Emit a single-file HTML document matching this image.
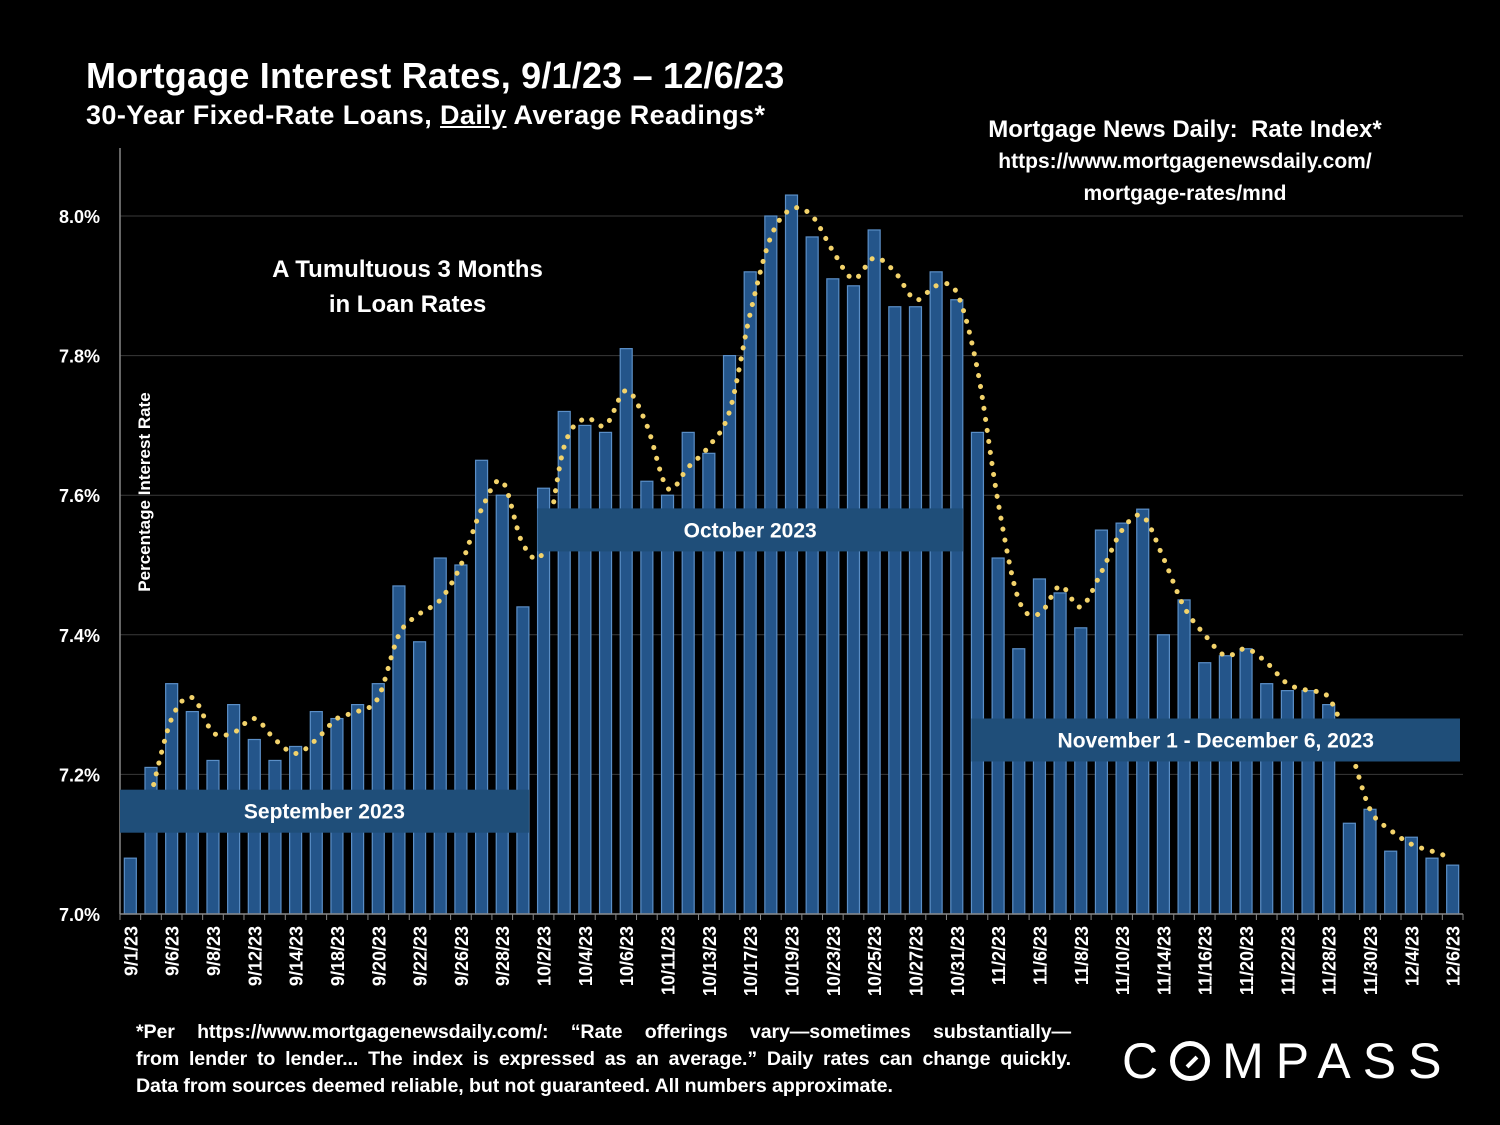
<!DOCTYPE html>
<html><head><meta charset="utf-8">
<style>
html,body{margin:0;padding:0;background:#000;}
body{width:1500px;height:1125px;position:relative;overflow:hidden;font-family:"Liberation Sans",sans-serif;color:#fff;font-weight:bold;}
.abs{position:absolute;white-space:nowrap;}
.fl{display:block;text-align:justify;text-align-last:justify;white-space:normal;}
</style></head>
<body>
<div class="abs" style="left:86px;top:55px;font-size:36px;letter-spacing:0.2px;">Mortgage Interest Rates, 9/1/23 – 12/6/23</div>
<div class="abs" style="left:86px;top:100px;font-size:27px;letter-spacing:0.4px;">30-Year Fixed-Rate Loans, <u>Daily</u> Average Readings*</div>
<div class="abs" style="left:885px;top:114px;width:600px;text-align:center;font-size:24px;line-height:31px;">Mortgage News Daily:&nbsp; Rate Index*<br><span style="font-size:21px">https://www.mortgagenewsdaily.com/<br>mortgage-rates/mnd</span></div>
<div class="abs" style="left:220px;top:252px;width:375px;text-align:center;font-size:24px;line-height:35px;">A Tumultuous 3 Months<br>in Loan Rates</div>
<div class="abs" style="left:136px;top:1019px;width:935px;white-space:normal;font-size:19.6px;line-height:27px;letter-spacing:-0.1px;">
<span class="fl">*Per https://www.mortgagenewsdaily.com/: “Rate offerings vary—sometimes substantially—</span>
<span class="fl">from lender to lender... The index is expressed as an average.” Daily rates can change quickly.</span>
<span style="display:block;">Data from sources deemed reliable, but not guaranteed. All numbers approximate.</span></div>
<div class="abs" style="left:1122px;top:1032px;font-size:50px;font-weight:normal;letter-spacing:12px;">C<span style="display:inline-block;width:40px;height:40px;border:5px solid #fff;border-radius:50%;box-sizing:border-box;position:relative;vertical-align:-3px;margin-right:12px;"><span style="position:absolute;left:10px;top:14px;width:14px;height:4px;background:#fff;transform:rotate(-45deg);"></span></span>MPASS</div>

<svg id="chart" width="1500" height="1125" style="position:absolute;left:0;top:0;"></svg>

<script>
const dates=["9/1/23","9/5/23","9/6/23","9/7/23","9/8/23","9/11/23","9/12/23","9/13/23","9/14/23","9/15/23","9/18/23","9/19/23","9/20/23","9/21/23","9/22/23","9/25/23","9/26/23","9/27/23","9/28/23","9/29/23","10/2/23","10/3/23","10/4/23","10/5/23","10/6/23","10/10/23","10/11/23","10/12/23","10/13/23","10/16/23","10/17/23","10/18/23","10/19/23","10/20/23","10/23/23","10/24/23","10/25/23","10/26/23","10/27/23","10/30/23","10/31/23","11/1/23","11/2/23","11/3/23","11/6/23","11/7/23","11/8/23","11/9/23","11/10/23","11/13/23","11/14/23","11/15/23","11/16/23","11/17/23","11/20/23","11/21/23","11/22/23","11/27/23","11/28/23","11/29/23","11/30/23","12/1/23","12/4/23","12/5/23","12/6/23"];
const rates=[7.08,7.21,7.33,7.29,7.22,7.30,7.25,7.22,7.24,7.29,7.28,7.30,7.33,7.47,7.39,7.51,7.50,7.65,7.60,7.44,7.61,7.72,7.70,7.69,7.81,7.62,7.60,7.69,7.66,7.80,7.92,8.00,8.03,7.97,7.91,7.90,7.98,7.87,7.87,7.92,7.88,7.69,7.51,7.38,7.48,7.46,7.41,7.55,7.56,7.58,7.40,7.45,7.36,7.37,7.38,7.33,7.32,7.32,7.30,7.13,7.15,7.09,7.11,7.08,7.07];
const trend=[null,7.17,7.28,7.31,7.26,7.26,7.28,7.25,7.23,7.25,7.28,7.29,7.31,7.40,7.43,7.45,7.50,7.58,7.62,7.53,7.52,7.67,7.71,7.70,7.75,7.70,7.61,7.64,7.67,7.72,7.86,7.97,8.01,8.00,7.95,7.91,7.94,7.92,7.88,7.90,7.89,7.78,7.59,7.45,7.43,7.47,7.44,7.49,7.55,7.57,7.51,7.44,7.40,7.37,7.38,7.36,7.33,7.32,7.31,7.24,7.15,7.12,7.10,7.09,7.08];
const yTicks=[7.0,7.2,7.4,7.6,7.8,8.0];
const yTickLabels=["7.0%","7.2%","7.4%","7.6%","7.8%","8.0%"];
const banners=[{label:"September 2023",from:0,to:19,value:7.148},{label:"October 2023",from:20,to:40,value:7.551},{label:"November 1 - December 6, 2023",from:41,to:64,value:7.25}];

const L=120,R=1463,T=216,B=914,ymin=7.0,ymax=8.0;
const n=rates.length,step=(R-L)/n;
const xc=i=>L+step*(i+0.5);
const y=v=>B-(v-ymin)/(ymax-ymin)*(B-T);
const svg=document.getElementById('chart');
const NS="http://www.w3.org/2000/svg";
function mk(tag,attrs,parent){const e=document.createElementNS(NS,tag);for(const k in attrs)e.setAttribute(k,attrs[k]);(parent||svg).appendChild(e);return e;}

yTicks.forEach((t,k)=>{
  if(k>0){const g=mk('line',{x1:L,x2:R,y1:y(t),y2:y(t),stroke:'#3a3a3a','stroke-width':1});
  
  }
  const tx=mk('text',{x:L-20,y:y(t)+7,'text-anchor':'end',fill:'#fff','font-size':18,'font-weight':'bold','font-family':'Liberation Sans, sans-serif'});
  tx.textContent=yTickLabels[k];
  
  
});
const ya=mk('line',{x1:L,x2:L,y1:148,y2:B,stroke:'#888','stroke-width':1.5});


const yt=mk('text',{x:0,y:0,transform:`translate(150,492) rotate(-90)`,'text-anchor':'middle',fill:'#fff','font-size':17,'font-weight':'bold','font-family':'Liberation Sans, sans-serif'});
yt.textContent="Percentage Interest  Rate";



rates.forEach((v,i)=>{
  const r=mk('rect',{x:xc(i)-6,y:y(v),width:12,height:B-y(v),fill:'#24558a',stroke:'#5b8fc7','stroke-width':1.2});
  
  
});
const xa=mk('line',{x1:L,x2:R,y1:B,y2:B,stroke:'#888','stroke-width':1.5});


for(let i=0;i<=n;i++){mk('line',{x1:L+step*i,x2:L+step*i,y1:B,y2:B+6,stroke:'#888','stroke-width':1});}
dates.forEach((d,i)=>{
  if(i%2)return;
  const t=mk('text',{x:0,y:0,transform:`translate(${xc(i)+7},${B+12}) rotate(-90)`,'text-anchor':'end',fill:'#fff','font-size':18,'font-weight':'bold','font-family':'Liberation Sans, sans-serif'});
  t.textContent=d;
  
  
});

const pts=[];trend.forEach((v,i)=>{if(v!==null)pts.push([xc(i),y(v)]);});
let d=`M${pts[0][0]},${pts[0][1]}`;
for(let i=0;i<pts.length-1;i++){const p0=pts[Math.max(0,i-1)],p1=pts[i],p2=pts[i+1],p3=pts[Math.min(pts.length-1,i+2)];
  const c1=[p1[0]+(p2[0]-p0[0])/6,p1[1]+(p2[1]-p0[1])/6],c2=[p2[0]-(p3[0]-p1[0])/6,p2[1]-(p3[1]-p1[1])/6];
  d+=` C${c1[0]},${c1[1]} ${c2[0]},${c2[1]} ${p2[0]},${p2[1]}`;}
const tl=mk('path',{d:d,fill:'none',stroke:'#f3d36b','stroke-width':5,'stroke-linecap':'round','stroke-dasharray':'0.1 11'});



banners.forEach(b=>{
  const x0=b.from===0?L:xc(b.from)-6, x1=b.to===n-1?1460:xc(b.to)+6;
  const r=mk('rect',{x:x0,y:y(b.value)-21,width:x1-x0,height:43,fill:'#1f4e79'});
  
  
  const t=mk('text',{x:(x0+x1)/2,y:y(b.value)+8,'text-anchor':'middle',fill:'#fff','font-size':21,'font-weight':'bold','font-family':'Liberation Sans, sans-serif'});
  t.textContent=b.label;
  
  
});
</script>
</body></html>
